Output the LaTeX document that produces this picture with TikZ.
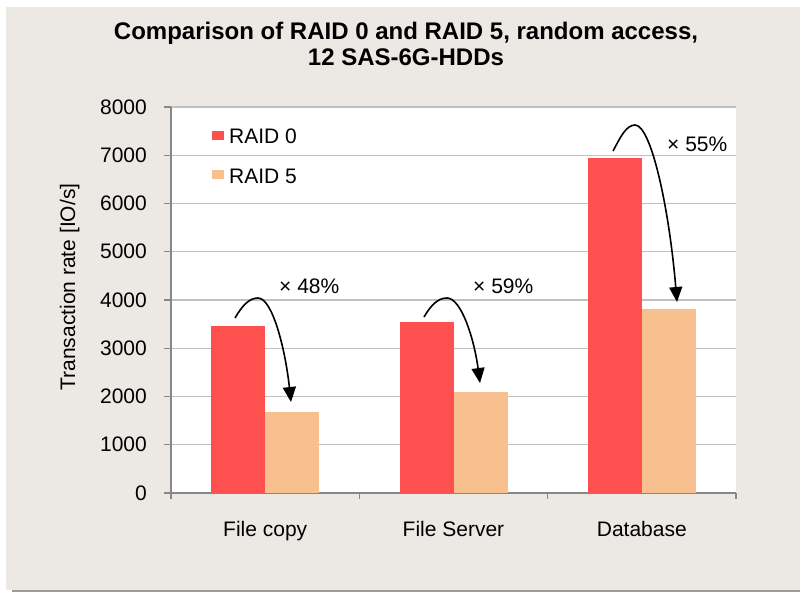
\documentclass[tikz,border=0pt]{standalone}
\usepackage{fontspec}
\setmainfont{Liberation Sans}
\usetikzlibrary{arrows.meta,calc}
\definecolor{panelbg}{HTML}{ECE9E5}
\definecolor{shadowc}{HTML}{9B9B9B}
\definecolor{raidzero}{HTML}{FF5050}
\definecolor{raidfive}{HTML}{F9C08F}
\definecolor{gridc}{HTML}{C0C0C0}
\definecolor{axisc}{HTML}{878787}
\begin{document}
\begin{tikzpicture}[x=1pt,y=-1pt,
  lbl/.style={inner sep=0pt,font=\fontsize{21}{25}\selectfont},
  ttl/.style={inner sep=0pt,font=\bfseries\fontsize{24}{26}\selectfont},
  gridline/.style={draw=gridc,line width=1.4pt},
  axisline/.style={draw=axisc,line width=1.4pt},
  factorarrow/.style={line width=1.6pt,-{Triangle[length=15pt,width=13pt]}}]
\useasboundingbox (0,0) rectangle (800,592);
\fill[white] (0,0) rectangle (800,592);
\fill[shadowc] (12,588) rectangle (800,592);
\fill[panelbg] (6,7) rectangle (800,589.5);
% title
\node[ttl,anchor=base] (title1) at (406,39) {Comparison of RAID 0 and RAID 5, random access,};
\node[ttl,anchor=base] (title2) at (406,65) {12 SAS-6G-HDDs};
% plot area
\fill[white] (171,107) rectangle (736,493);
\foreach \k in {1,...,8} {
  \draw[gridline] (171,{493-\k*48.25}) -- (736,{493-\k*48.25});
}
\foreach \k in {0,...,8} {
  \draw[axisline] (164,{493-\k*48.25}) -- (171,{493-\k*48.25});
  \pgfmathtruncatemacro{\val}{\k*1000}
  \node[lbl,anchor=east] (ytick\k) at (147,{493-\k*48.25}) {\val};
}
\draw[axisline] (171,107) -- (171,499);
\draw[axisline] (164,493) -- (736,493);
\foreach \xx in {171,359.33,547.67,736} {
  \draw[axisline] (\xx,493) -- (\xx,499);
}
% bars
\fill[raidzero] (211.2,326.0) rectangle (265.2,493);
\fill[raidfive] (265.2,412.0) rectangle (319.2,493);
\fill[raidzero] (399.5,322.2) rectangle (453.5,493);
\fill[raidfive] (453.5,392.2) rectangle (507.5,493);
\fill[raidzero] (587.8,158.0) rectangle (641.8,493);
\fill[raidfive] (641.8,309.0) rectangle (695.8,493);
% legend
\fill[raidzero] (212,131) rectangle (224,139.5);
\node[lbl,anchor=base west] (leg0) at (229,143) {RAID 0};
\fill[raidfive] (212,170) rectangle (224,179);
\node[lbl,anchor=base west] (leg5) at (229,183) {RAID 5};
% category labels
\node[lbl,anchor=base] (cat1) at (265.2,536) {File copy};
\node[lbl,anchor=base] (cat2) at (453.5,536) {File Server};
\node[lbl,anchor=base] (cat3) at (641.8,536) {Database};
% axis title
\node[lbl,rotate=90,anchor=base] (ytitle) at (75,287) {Transaction rate [IO/s]};
% arrows
\coordinate (s1) at (235,318);
\coordinate (p1) at (258,298);
\coordinate (t1) at (291,402);
\coordinate (s2) at (424,317);
\coordinate (p2) at (447,298);
\coordinate (t2) at (480,383);
\coordinate (s3) at (613,151);
\coordinate (p3) at (635,125);
\coordinate (t3) at (677,302);
\draw[factorarrow] (s1) .. controls ($(s1)+(7,-12)$) and ($(p1)+(-9,0)$) .. (p1)
  .. controls ($(p1)+(14,0)$) and ($(t1)+(-6,-55)$) .. (t1);
\draw[factorarrow] (s2) .. controls ($(s2)+(7,-12)$) and ($(p2)+(-9,0)$) .. (p2)
  .. controls ($(p2)+(14,0)$) and ($(t2)+(-6,-45)$) .. (t2);
\draw[factorarrow] (s3) .. controls ($(s3)+(7,-13)$) and ($(p3)+(-9,0)$) .. (p3)
  .. controls ($(p3)+(16,0)$) and ($(t3)+(-8,-95)$) .. (t3);
% factors
\node[lbl,anchor=base west] (f1) at (279,293) {× 48\%};
\node[lbl,anchor=base west] (f2) at (473,293) {× 59\%};
\node[lbl,anchor=base west] (f3) at (667,151) {× 55\%};
\end{tikzpicture}
\end{document}
